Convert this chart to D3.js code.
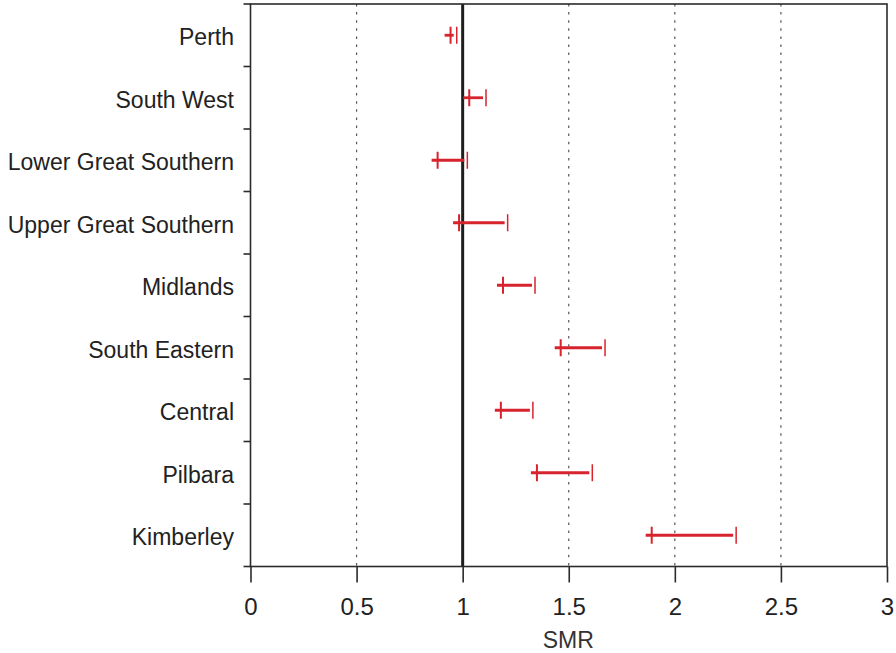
<!DOCTYPE html>
<html>
<head>
<meta charset="utf-8">
<script src="https://cdn.jsdelivr.net/npm/d3@7"></script>
<style>
  html, body { margin: 0; padding: 0; background: #fff; }
  svg { display: block; font-family: "Liberation Sans", Arial, sans-serif; }
</style>
</head>
<body>
<svg id="chart" width="896" height="653"></svg>
<script>
// Standardised mortality ratios by health region, with 95% confidence limits
const regions = ["Perth", "South West", "Lower Great Southern", "Upper Great Southern",
  "Midlands", "South Eastern", "Central", "Pilbara", "Kimberley"];
const lower = [0.943, 1.031, 0.882, 0.983, 1.190, 1.462, 1.180, 1.350, 1.891];
const upper = [0.972, 1.110, 1.022, 1.212, 1.341, 1.671, 1.331, 1.611, 2.289];
const xTicks = [0, 0.5, 1, 1.5, 2, 2.5, 3];
const gridTicks = [0.5, 1.5, 2, 2.5];
const refValue = 1;

const W = 896, H = 653;
const plot = { left: 250.5, right: 887, top: 4, bottom: 566.5 };
const red = "#d7232c";

const svg = d3.select("#chart");

const x = d3.scaleLinear().domain([0, 3]).range([plot.left, plot.right]);
const y = d3.scaleBand().domain(regions).range([plot.top, plot.bottom]);

// dotted vertical grid
svg.append("g").selectAll("line").data(gridTicks).join("line")
  .attr("x1", d => x(d)).attr("x2", d => x(d))
  .attr("y1", plot.top).attr("y2", plot.bottom)
  .attr("stroke", "#555").attr("stroke-width", 1.2)
  .attr("stroke-dasharray", "2.5,5.6");

// reference line at SMR = 1
svg.append("line")
  .attr("x1", x(refValue)).attr("x2", x(refValue))
  .attr("y1", plot.top).attr("y2", plot.bottom)
  .attr("stroke", "#1e1e1e").attr("stroke-width", 3);

// confidence interval marks
const rows = regions.map((r, i) => ({ region: r, lo: lower[i], hi: upper[i] }));
const g = svg.append("g").selectAll("g").data(rows).join("g")
  .attr("transform", d => `translate(0,${y(d.region) + y.bandwidth() / 2})`);

g.append("line")
  .attr("x1", d => x(d.lo) - 6).attr("x2", d => x(d.hi) - 3)
  .attr("y1", 0).attr("y2", 0)
  .attr("stroke", red).attr("stroke-width", 2.8);
g.append("line")
  .attr("x1", d => x(d.lo)).attr("x2", d => x(d.lo))
  .attr("y1", -8.5).attr("y2", 8.5)
  .attr("stroke", red).attr("stroke-width", 2);
g.append("line")
  .attr("x1", d => x(d.hi)).attr("x2", d => x(d.hi))
  .attr("y1", -8.5).attr("y2", 8.5)
  .attr("stroke", red).attr("stroke-width", 1.5);

// frame
svg.append("rect")
  .attr("x", plot.left).attr("y", plot.top)
  .attr("width", plot.right - plot.left).attr("height", plot.bottom - plot.top)
  .attr("fill", "none").attr("stroke", "#2b2b2b").attr("stroke-width", 1.6);

// y ticks at row boundaries
const bounds = regions.map(r => y(r)).concat([plot.bottom]);
svg.append("g").selectAll("line").data(bounds).join("line")
  .attr("x1", plot.left - 7).attr("x2", plot.left)
  .attr("y1", d => d).attr("y2", d => d)
  .attr("stroke", "#2b2b2b").attr("stroke-width", 1.6);

// region labels
svg.append("g").selectAll("text").data(regions).join("text")
  .attr("x", 234)
  .attr("y", d => y(d) + y.bandwidth() / 2 + 1.5)
  .attr("dy", "0.36em")
  .attr("text-anchor", "end")
  .attr("font-size", 23)
  .attr("fill", "#222")
  .text(d => d);

// x axis
const xAxis = svg.append("g")
  .attr("transform", `translate(0,${plot.bottom})`)
  .call(d3.axisBottom(x).tickValues(xTicks).tickSize(16).tickPadding(15)
    .tickFormat(d => String(d)));
xAxis.select(".domain").remove();
xAxis.selectAll(".tick line").attr("stroke", "#2b2b2b").attr("stroke-width", 1.6);
xAxis.selectAll(".tick text")
  .attr("font-size", 24)
  .attr("fill", "#222")
  .attr("font-family", "'Liberation Sans', Arial, sans-serif");

svg.append("text")
  .attr("x", (plot.left + plot.right) / 2 - 0.5)
  .attr("y", 648)
  .attr("text-anchor", "middle")
  .attr("font-size", 23)
  .attr("fill", "#333")
  .text("SMR");
</script>
</body>
</html>
